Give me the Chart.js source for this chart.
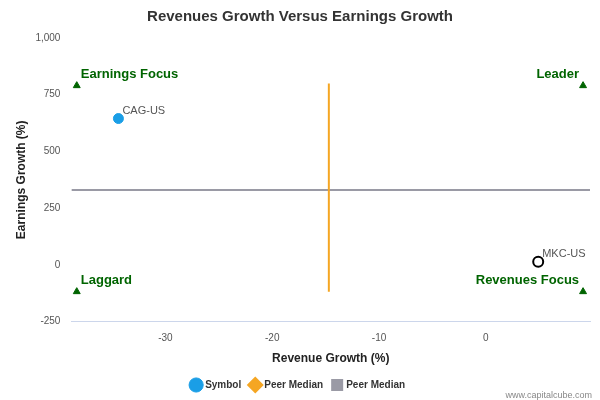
<!DOCTYPE html>
<html><head><meta charset="utf-8">
<script src="https://cdn.jsdelivr.net/npm/chart.js@4"></script>
<style>body{margin:0;background:#fff}</style>
</head><body><canvas id="c" width="600" height="400"></canvas>
<script>
const symbols=["CAG-US","MKC-US"];
const revGrowth=[-34.4,4.9];
const earnGrowth=[645,14];
const medianX=-14.7, medianY=330;
const vLineY=[800,-118];
const hLineX=[-38.8,9.75];
const quadLabels=["Earnings Focus","Leader","Laggard","Revenues Focus"];
const quadX=[-38.3,9.1,-38.3,9.1];
const quadY=[790,790,-118,-118];
const xTicks=[-30,-20,-10,0];
const yTicks=[-250,0,250,500,750,1000];

const labelsPlugin={id:'lbl',afterDatasetsDraw(ch){
  const c=ch.ctx,x=ch.scales.x,y=ch.scales.y;
  c.save();
  c.font='11px Arial, "Liberation Sans"';c.fillStyle='#555';c.textAlign='left';c.textBaseline='bottom';
  symbols.forEach((s,i)=>c.fillText(s,x.getPixelForValue(revGrowth[i])+4,y.getPixelForValue(earnGrowth[i])-2));
  c.font='bold 13px Arial, "Liberation Sans"';c.fillStyle='#006400';
  quadLabels.forEach((s,i)=>{const px=x.getPixelForValue(quadX[i]),py=y.getPixelForValue(quadY[i]);
    c.textAlign=i%2?'right':'left';c.fillText(s,px+(i%2?-4:4),py-5);});
  c.restore();
}};
new Chart(document.getElementById('c'),{
 type:'scatter',
 data:{datasets:[
  {label:'Symbol',data:[{x:revGrowth[0],y:earnGrowth[0]}],backgroundColor:'#1a9ee6',borderColor:'#1a9ee6',pointRadius:5,pointStyle:'circle',order:0},
  {label:'Symbol2',data:[{x:revGrowth[1],y:earnGrowth[1]}],backgroundColor:'#fff',borderColor:'#000',borderWidth:2,pointRadius:5,order:0},
  {label:'Peer Median',type:'line',data:vLineY.map(v=>({x:medianX,y:v})),borderColor:'#f5a623',backgroundColor:'#f5a623',borderWidth:2,pointRadius:0,pointStyle:'rectRot',order:2},
  {label:'Peer Median ',type:'line',data:hLineX.map(v=>({x:v,y:medianY})),borderColor:'#9a9aa5',backgroundColor:'#9a9aa5',borderWidth:2,pointRadius:0,pointStyle:'rect',order:2},
  {label:'q',data:quadX.map((v,i)=>({x:v,y:quadY[i]})),backgroundColor:'#006400',borderColor:'#006400',pointStyle:'triangle',pointRadius:4,order:1}
 ]},
 options:{responsive:false,animation:false,devicePixelRatio:1,
  layout:{padding:{left:10,right:10,top:0,bottom:0}},
  plugins:{title:{display:true,text:'Revenues Growth Versus Earnings Growth',font:{size:15,weight:'bold',family:'Arial'},color:'#333',padding:{top:8,bottom:12}},
   legend:{position:'bottom',labels:{usePointStyle:true,boxWidth:8,font:{size:10,weight:'bold'},color:'#333',
     filter:i=>i.text!=='q'&&i.text!=='Symbol2'}},tooltip:{enabled:false}},
  scales:{
   x:{type:'linear',min:-38.8,max:9.75,afterBuildTicks:a=>{a.ticks=xTicks.map(v=>({value:v}))},
     grid:{display:false},border:{color:'#ccd6eb'},ticks:{color:'#555',font:{size:10}},
     title:{display:true,text:'Revenue Growth (%)',font:{size:12,weight:'bold'},color:'#222'}},
   y:{min:-250,max:1000,afterBuildTicks:a=>{a.ticks=yTicks.map(v=>({value:v}))},
     grid:{display:false},border:{display:false},ticks:{color:'#555',font:{size:10}},
     title:{display:true,text:'Earnings Growth (%)',font:{size:12,weight:'bold'},color:'#222'}}
  }},
 plugins:[labelsPlugin,{id:'credit',afterDraw(ch){const c=ch.ctx;c.save();c.font='9px Arial';c.fillStyle='#888';c.textAlign='right';c.fillText('www.capitalcube.com',592,396);c.restore();}}]
});
</script></body></html>
